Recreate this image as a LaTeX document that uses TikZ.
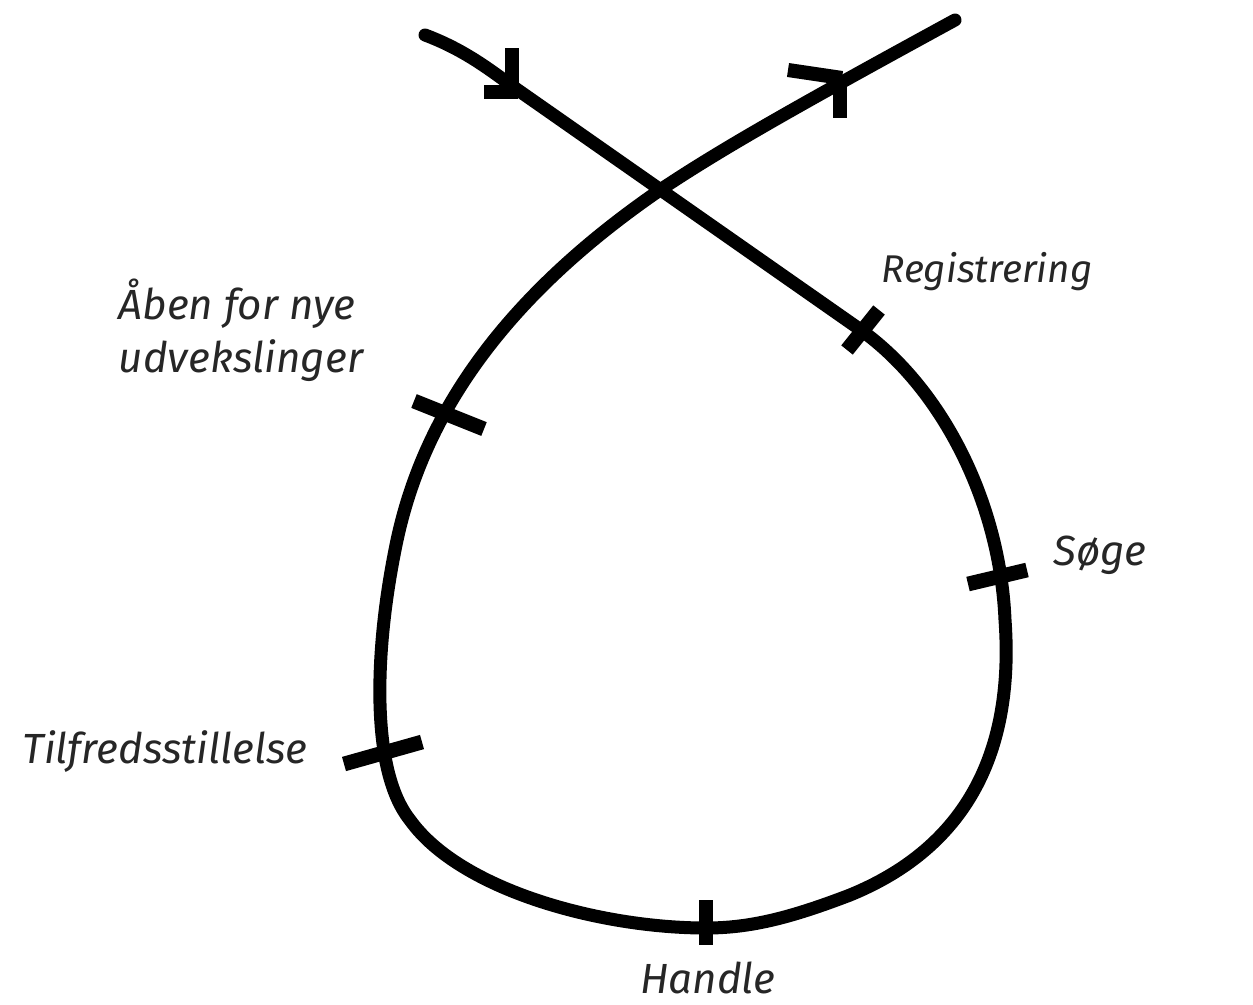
\documentclass[tikz,border=0pt]{standalone}
\usepackage{fontspec}
\setmainfont{Fira Sans}
\begin{document}
\begin{tikzpicture}[x=0.02cm,y=-0.02cm,
  loopline/.style={line width=7.4pt,line cap=round,line join=round},
  tick/.style={line width=8.4pt},
  barb/.style={line width=8pt},
  lbl/.style={font=\itshape\fontsize{24}{30}\selectfont,inner sep=0pt,text=black!85}]
\useasboundingbox (0,0) rectangle (1253,1004);
\draw[loopline] (425,35) .. controls (465,50) and (490,70) .. (515,88)
  -- (858,328)
  .. controls (940,385) and (1000,500) .. (1005,620)
  .. controls (1015,760) and (960,850) .. (850,895)
  .. controls (790,918) and (750,928) .. (706,928)
  .. controls (600,928) and (460,890) .. (410,820)
  .. controls (370,770) and (375,650) .. (395,550)
  .. controls (420,420) and (500,300) .. (660,190)
  .. controls (720,150) and (790,110) .. (955,20);
% arrow barbs
\draw[barb] (512,48) -- (512,92);
\draw[barb] (484,92) -- (518,92);
\draw[barb] (788,70) -- (842,78);
\draw[barb] (840,78) -- (840,118);
% ticks
\draw[tick] (847,350) -- (879,310);
\draw[tick] (968,584) -- (1027,570);
\draw[tick] (706,900) -- (706,945);
\draw[tick] (344,764) -- (422,742);
\draw[tick] (414,401) -- (484,429);
% labels
\node[lbl,font=\itshape\fontsize{22}{28}\selectfont] (reg) at (987,272) {Registrering};
\node[lbl] (soge) at (1100,555) {Søge};
\node[lbl] (handle) at (708,978) {Handle};
\node[lbl] (tilf) at (165,752) {Tilfredsstillelse};
\node[lbl,align=left] (aben) at (241,330) {Åben for nye\\udvekslinger};
\end{tikzpicture}
\end{document}
